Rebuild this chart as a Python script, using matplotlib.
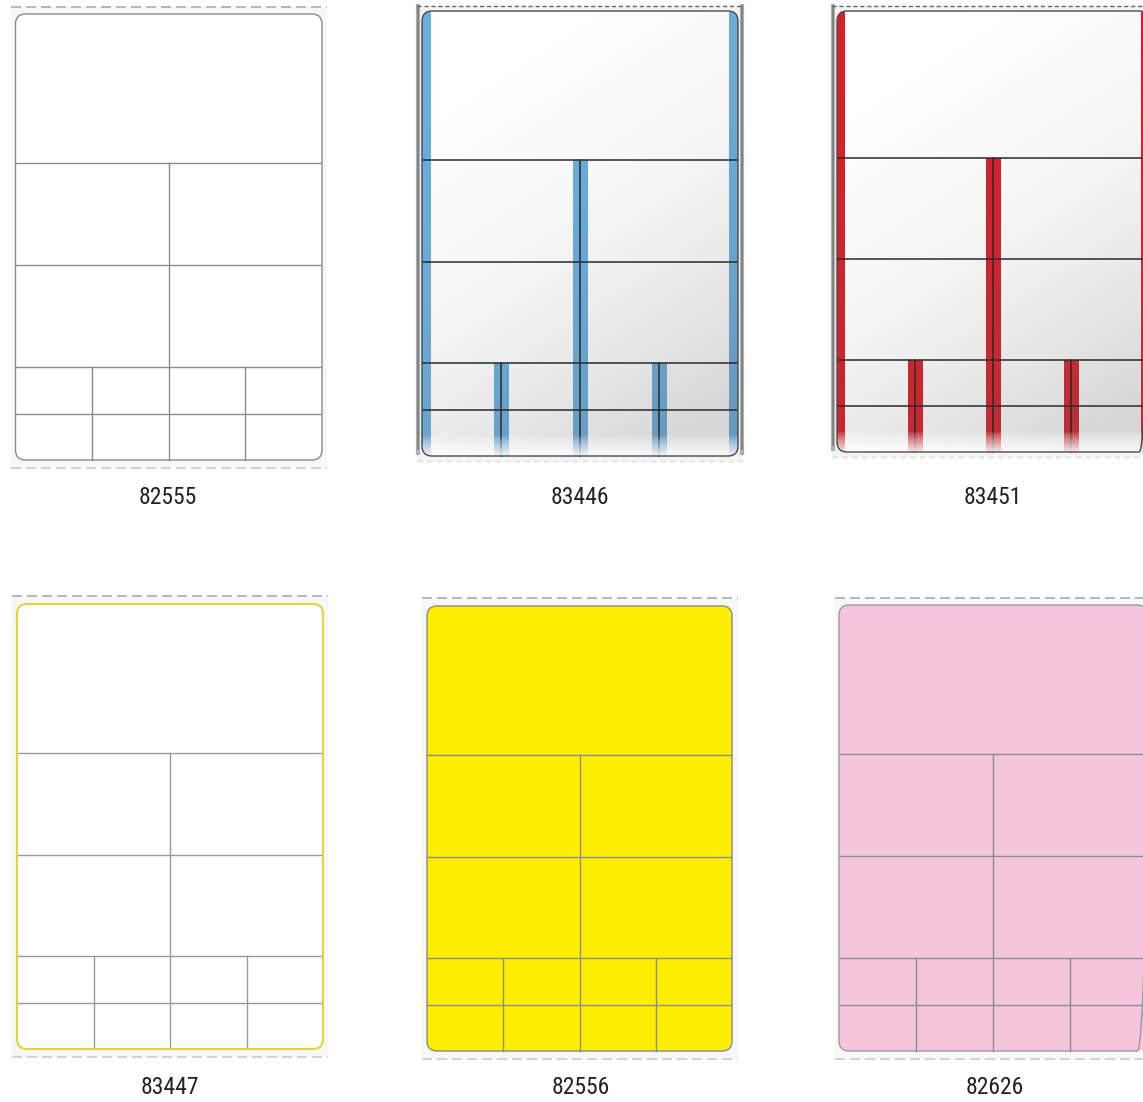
import numpy as np
import matplotlib
matplotlib.use("Agg")
import matplotlib.pyplot as plt
from matplotlib.patches import FancyBboxPatch, Rectangle
from matplotlib import font_manager

# ---- data ----
codes = ["82555", "83446", "83451", "83447", "82556", "82626"]
fill_colors = ["#ffffff", "#ffffff", "#ffffff", "#ffffff", "#fdee00", "#f5c6db"]
border_colors = ["#8a8a8a", "#4a4a4a", "#4a4a4a", "#e2d43c", "#8a8a8a", "#9a9a9a"]
grid_colors = ["#8c8c8c", "#2a2a2a", "#2a2a2a", "#9a9a9a", "#8a8a98", "#8c8c8c"]
stripe_colors = [None, "#6aaedf", "#d7202a", None, None, None]
row_fracs = [0.334, 0.563, 0.791, 0.896]   # horizontal rule positions (fraction of label height)
col_fracs_mid = [0.5]
col_fracs_low = [0.25, 0.75]

# ---- layout (pixel coords) ----
label_boxes = [(15.5, 14, 322, 460), (422, 11, 738, 456), (837, 11, 1149, 452),
               (17, 604, 323, 1049), (427, 606, 732, 1051), (839, 605, 1147, 1051)]
backings = [(11, 7, 327, 468), (417, 6, 743, 461), (832, 6, 1150, 457),
            (12, 596, 328, 1057), (422, 598, 738, 1059), (835, 598, 1150, 1059)]
text_pos = [(168, 497), (580, 497), (993, 497), (170, 1087), (581, 1087), (995, 1087)]

W, H = 1143, 1102
fig = plt.figure(figsize=(W / 100, H / 100), dpi=100)
ax = fig.add_axes([0, 0, 1, 1])
ax.set_xlim(0, W)
ax.set_ylim(H, 0)
ax.axis("off")

names = {f.name for f in font_manager.fontManager.ttflist}
if "Roboto Condensed" in names:
    fam, fs = ["Roboto Condensed", "DejaVu Sans"], 17
elif "Liberation Sans Narrow" in names:
    fam, fs = ["Liberation Sans Narrow", "DejaVu Sans"], 17
else:
    fam, fs = ["Roboto", "DejaVu Sans"], 15

for i, code in enumerate(codes):
    x0, y0, x1, y1 = label_boxes[i]
    bx0, by0, bx1, by1 = backings[i]
    w, h = x1 - x0, y1 - y0
    striped = stripe_colors[i] is not None

    # backing sheet
    if striped:
        ax.add_patch(Rectangle((bx0, by0), bx1 - bx0, by1 - by0, facecolor="#f4f4f4",
                               edgecolor="none", zorder=1))
        for xe in (bx0 + 1, bx1 - 1):
            ax.plot([xe, xe], [by0, by1 - 8], color="#b0b0b0", lw=3.0, zorder=1.4)
            ax.plot([xe, xe], [by0, by1 - 12], color="#7a7a7a", lw=1.2, zorder=1.5)
        ax.plot([bx0, bx1], [by0, by0], color="#666666", lw=1.0, ls=(0, (3, 2)), zorder=1.5)
        ax.plot([bx0, bx1], [by1, by1], color="#dddddd", lw=1.0, ls=(0, (4, 3)), zorder=1.5)
    else:
        ax.add_patch(Rectangle((bx0, by0), bx1 - bx0, by1 - by0, facecolor="#f6f7f7",
                               edgecolor="none", zorder=1))
        ax.plot([bx0, bx1], [by0, by0], color="#a9adb1", lw=1.2, ls=(0, (6, 3)), zorder=1.5)
        ax.plot([bx0, bx1], [by1, by1], color="#c8ccd0", lw=1.2, ls=(0, (6, 3)), zorder=1.5)

    # label body
    body = FancyBboxPatch((x0, y0), w, h, boxstyle="round,pad=0,rounding_size=10",
                          facecolor=fill_colors[i], edgecolor="none", zorder=2)
    ax.add_patch(body)

    ys = [y0 + f * h for f in row_fracs]
    gc = grid_colors[i]
    lw = 1.1 if striped else 1.0

    if striped:
        sc = stripe_colors[i]
        sw_edge = 9 if i == 1 else 8
        sw = 15
        s1 = Rectangle((x0, y0), sw_edge, h, facecolor=sc, edgecolor="none", zorder=2.2)
        s2 = Rectangle((x1 - sw_edge, y0), sw_edge, h, facecolor=sc, edgecolor="none", zorder=2.2)
        xm = x0 + 0.5 * w
        s3 = Rectangle((xm - sw / 2, ys[0]), sw, y1 - ys[0], facecolor=sc, edgecolor="none", zorder=2.2)
        stripes = [s1, s2, s3]
        for f in col_fracs_low:
            xq = x0 + f * w
            stripes.append(Rectangle((xq - sw / 2, ys[2]), sw, y1 - ys[2], facecolor=sc,
                                     edgecolor="none", zorder=2.2))
        for s in stripes:
            ax.add_patch(s)
            s.set_clip_path(body)
        # diagonal shading
        n = 200
        u = np.linspace(0, 1, n)[None, :]
        v = np.linspace(0, 1, n)[:, None]
        g = np.clip(0.35 * u + 0.75 * v, 0, 1) ** 2.2
        shade = np.zeros((n, n, 4))
        shade[..., 0:3] = 0.38
        shade[..., 3] = 0.25 * g
        im = ax.imshow(shade, extent=(x0, x1, y1, y0), zorder=2.5, interpolation="bilinear",
                       aspect="auto")
        im.set_clip_path(body)
        # bottom reflection
        refl = np.ones((n, 2, 4))
        t = np.linspace(0, 1, n)
        refl[:, :, 3] = (np.clip((t - 0.955) / 0.045, 0, 1) ** 0.8 * 0.85)[:, None]
        im2 = ax.imshow(refl, extent=(x0, x1, y1, y0), zorder=3.5, interpolation="bilinear",
                        aspect="auto")
        im2.set_clip_path(body)

    # grid lines
    for yy in ys:
        ax.plot([x0, x1], [yy, yy], color=gc, lw=lw, zorder=3, clip_path=body)
    for f in col_fracs_mid:
        xv = x0 + f * w
        ax.plot([xv, xv], [ys[0], y1], color=gc, lw=lw, zorder=3)
    for f in col_fracs_low:
        xv = x0 + f * w
        ax.plot([xv, xv], [ys[2], y1], color=gc, lw=lw, zorder=3)

    # border
    ax.add_patch(FancyBboxPatch((x0, y0), w, h, boxstyle="round,pad=0,rounding_size=10",
                                facecolor="none", edgecolor=border_colors[i],
                                lw=1.5 if i == 3 else 1.0, zorder=4))

    tx, ty = text_pos[i]
    ax.text(tx, ty, code, ha="center", va="center", fontsize=fs, color="#222222",
            family=fam)

fig.savefig("out.png", dpi=100, facecolor="white")
